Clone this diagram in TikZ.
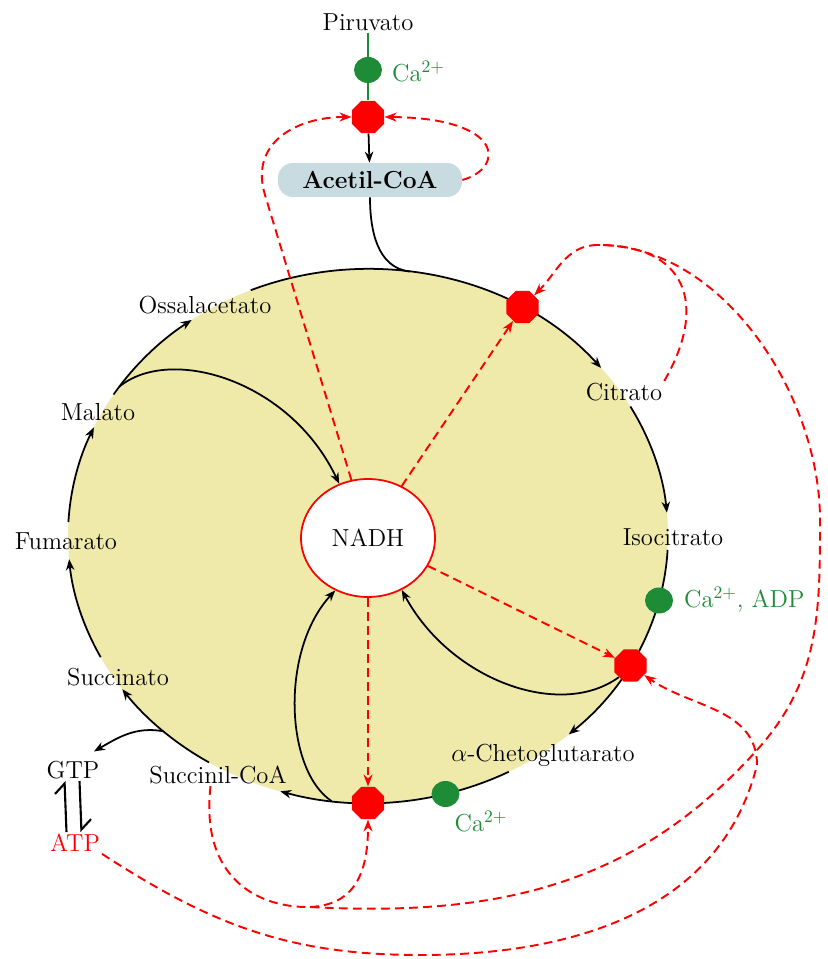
\documentclass[tikz,border=0pt]{standalone}
\usetikzlibrary{shapes.geometric,arrows.meta}
\definecolor{cyclefill}{RGB}{239,233,170}
\definecolor{boxfill}{RGB}{199,219,224}
\definecolor{actgreen}{RGB}{30,140,55}
\tikzset{
  metab/.style={font=\fontsize{14}{16}\selectfont, inner sep=1pt},
  enzyme/.style={regular polygon, regular polygon sides=8, fill=red, minimum size=0.7cm, inner sep=0pt},
  activ/.style={ellipse, fill=actgreen, minimum width=0.56cm, minimum height=0.52cm, inner sep=0pt},
  cycleflow/.style={line width=1pt, -{Stealth[length=2.2mm,width=1.7mm]}},
  inhib/.style={red, line width=1.1pt, dash pattern=on 5pt off 3pt, -{Stealth[length=2.4mm,width=1.8mm]}},
}
\begin{document}
\begin{tikzpicture}
    \useasboundingbox (0,0) rectangle (16.54,19.18);
    % Draw the cycle
    \coordinate (C) at (7.36,8.46);
    \fill[cyclefill] (C) ellipse (6 and 5.34);
    \foreach \a/\b in {113/39, 29/5, -3/-48, -62/-107, -122/-145, -153/-175, 177/156, 148/126}
        \draw[cycleflow] (C) ++(\a:6cm and 5.34cm) arc[start angle=\a, end angle=\b, x radius=6, y radius=5.34];
    \path (C) ++(82:6cm and 5.34cm) coordinate (jacetil);
    \path (C) ++(146:6cm and 5.34cm) coordinate (jmal);
    \path (C) ++(-97:6cm and 5.34cm) coordinate (jsucc);
    \path (C) ++(-133:6cm and 5.34cm) coordinate (jgtp);

    % Metabolites
    \node[metab] (piruvato) at (7.36,18.74) {Piruvato};
    \node[metab, fill=boxfill, rounded corners=0.3cm, minimum width=3.68cm, minimum height=0.68cm, font=\fontsize{14}{16}\selectfont\bfseries] (acetil) at (7.4,15.58) {Acetil-CoA};
    \node[metab] (ossal) at (4.10,13.08) {Ossalacetato};
    \node[metab] (malato) at (1.96,10.94) {Malato};
    \node[metab] (fumarato) at (1.32,8.36) {Fumarato};
    \node[metab] (succinato) at (2.36,5.64) {Succinato};
    \node[metab] (gtp) at (1.46,3.78) {GTP};
    \node[metab, red] (atp) at (1.5,2.32) {ATP};
    \node[metab] (succoa) at (4.36,3.68) {Succinil-CoA};
    \node[metab] (akg) at (10.86,4.08) {$\alpha$-Chetoglutarato};
    \node[metab] (isocitrato) at (13.46,8.44) {Isocitrato};
    \node[metab] (citrato) at (12.48,11.34) {Citrato};
    \node[metab, ellipse, draw=red, line width=1pt, fill=white, minimum width=2.68cm, minimum height=2.36cm] (nadh) at (7.36,8.42) {NADH};

    % Enzymes and activators
    \node[enzyme] (pdh) at (7.36,16.84) {};
    \node[enzyme] (cs) at (10.45,13.04) {};
    \node[enzyme] (idh) at (12.61,5.87) {};
    \node[enzyme] (kgdh) at (7.36,3.12) {};
    \node[activ] (gpyr) at (7.36,17.78) {};
    \node[activ] (gidh) at (13.18,7.17) {};
    \node[activ] (gkg) at (8.91,3.30) {};
    \node[metab, actgreen, anchor=west] (capyr) at (7.8,17.74) {Ca$^{2+}$};
    \node[metab, actgreen, anchor=west] (caidh) at (13.64,7.18) {Ca$^{2+}$, ADP};
    \node[metab, actgreen] (cakg) at (9.62,2.74) {Ca$^{2+}$};

    % Black arrows
    \draw[actgreen, line width=1.2pt] (piruvato) -- (gpyr) -- (pdh);
    \draw[cycleflow] (pdh) -- (acetil);
    \draw[line width=1pt] (acetil.south) to[out=-90,in=173] (jacetil);
    \draw[cycleflow] (jmal) .. controls (3.4,12.28) and (5.8,11.58) .. (nadh.118);
    \draw[cycleflow] (jsucc) .. controls (5.7,3.78) and (5.6,6.18) .. (nadh.238);
    \draw[cycleflow] (idh.225) .. controls (11.2,4.78) and (9.0,5.58) .. (nadh.-57);
    \draw[cycleflow] (jgtp) to[out=170,in=30] ([shift={(-0.15,0.15)}]gtp.north east);
    \draw[line width=1.2pt, -{Straight Barb[harpoon,length=2mm]}] ([xshift=-0.17cm]atp.north) -- ([xshift=-0.17cm]gtp.south);
    \draw[line width=1.2pt, -{Straight Barb[harpoon,length=2mm]}] ([xshift=0.13cm]gtp.south) -- ([xshift=0.13cm]atp.north);

    % Feedback inhibition
    \coordinate (pbend) at (5.3,15.28);
    \coordinate (ctop) at (11.96,14.28);
    \coordinate (sbend) at (6.2,1.04);
    \coordinate (kx) at (15.14,4.18);
    \coordinate (rx) at (16.40,8.78);
    \coordinate (abot) at (8.4,0.08);
    \coordinate (abend) at (15.14,3.88);
    \draw[inhib] (nadh.106) -- (pbend) to[out=107,in=180,looseness=1.2] (pdh.west);
    \draw[inhib] (acetil.east) .. controls (10.1,15.82) and (10.1,16.82) .. (pdh.east);
    \draw[inhib] (nadh.57) -- (cs);
    \draw[inhib] (nadh.-25) -- (idh);
    \draw[inhib] (nadh) -- (kgdh);
    \draw[inhib, -] (citrato.north east) to[out=60,in=0,looseness=1.5] (ctop);
    \draw[inhib] ([xshift=-0.15cm]succoa.south) .. controls (4.0,1.58) and (5.2,1.02) .. (sbend)
        to[out=-3,in=228] (kx) to[out=48,in=-90] (rx) to[out=90,in=0,looseness=0.9] (ctop) to[out=180,in=45] (cs);
    \draw[inhib] (sbend) .. controls (7.0,1.08) and (7.36,1.58) .. (kgdh);
    \draw[inhib] (atp.south east) to[out=-33,in=180] (abot) to[out=0,in=-104] (abend) to[out=90,in=-35] (idh);
\end{tikzpicture}
\end{document}
